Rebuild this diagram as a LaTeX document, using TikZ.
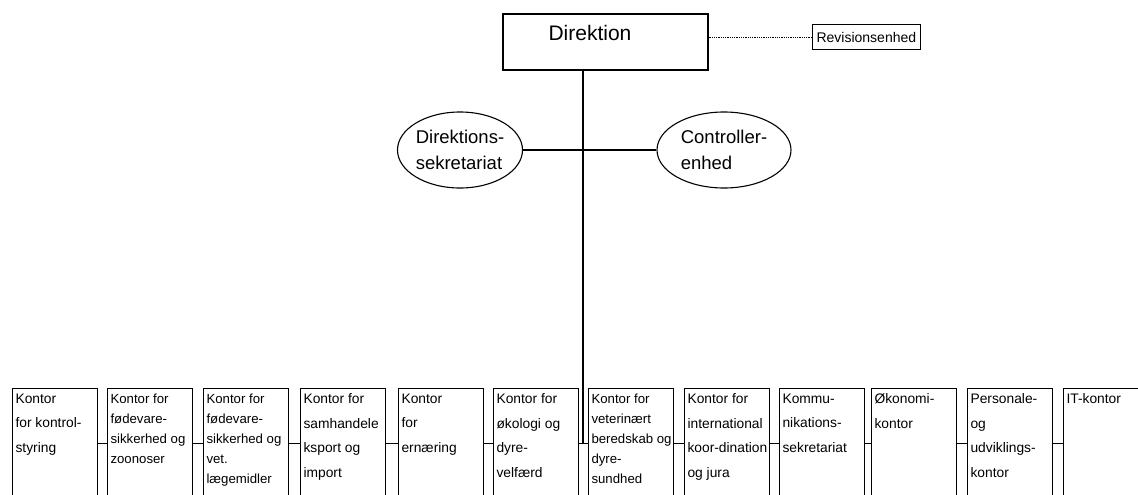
\documentclass[tikz,border=0pt]{standalone}
\usepackage{fontspec}
\setmainfont{Liberation Sans}
\usetikzlibrary{shapes.geometric}
\newcommand{\kasse}[1]{\parbox[t][100pt][t]{79pt}{\raggedright #1}}
\begin{document}
\begin{tikzpicture}[x=1pt,y=-1pt,line width=1.1pt,
    kontor/.style={draw,anchor=north west,inner xsep=3pt,inner ysep=5pt,font=\fontsize{13.8}{24.5}\selectfont},
    tight/.style={kontor,font=\fontsize{13.2}{20}\selectfont},
    enhed/.style={draw,ellipse,inner sep=0pt,minimum height=76pt,align=left,font=\fontsize{18.5}{26}\selectfont}]
        \useasboundingbox (0,0) rectangle (1138,495);
        \node[draw,minimum width=205pt,minimum height=56pt](dir)at(605.5,42){};
        \node[font=\fontsize{21}{24}\selectfont](dirnavn)at(590,33){Direktion};
        \node[draw,anchor=west,inner xsep=4pt,minimum height=25pt,font=\fontsize{14}{16}\selectfont](rev)at(812,37){Revisionsenhed};
        \draw[densely dotted,line width=0.8pt](dir.east|-rev.west)--(rev.west);
        \node[enhed,minimum width=124pt](sek)at(460,150){Direktions-\\sekretariat};
        \node[enhed,minimum width=134pt](ctrl)at(724,150){Controller-\\enhed};
        \draw(sek.east)--(ctrl.west);
        \node[kontor](k1)at(12,388){\kasse{Kontor\\for kontrol-\\styring}};
        \node[tight](k2)at(107,388){\kasse{Kontor for\\fødevare-\\\mbox{sikkerhed og}\\zoonoser}};
        \node[tight](k3)at(203,388){\kasse{Kontor for\\fødevare-\\\mbox{sikkerhed og}\\vet.\\lægemidler}};
        \node[kontor](k4)at(300,388){\kasse{Kontor for\\samhandele\\ksport og\\import}};
        \node[kontor](k5)at(398,388){\kasse{Kontor\\for\\ernæring}};
        \node[kontor](k6)at(493,388){\kasse{Kontor for\\økologi og\\dyre-\\velfærd}};
        \node[tight](k7)at(588,388){\kasse{Kontor for\\veterinært\\\mbox{beredskab og}\\dyre-\\sundhed}};
        \node[kontor](k8)at(684,388){\kasse{Kontor for\\\mbox{international}\\\mbox{koor-dination}\\og jura}};
        \node[kontor](k9)at(779,388){\kasse{Kommu-\\nikations-\\sekretariat}};
        \node[kontor](k10)at(871,388){\kasse{Økonomi-\\kontor}};
        \node[kontor](k11)at(967,388){\kasse{Personale-\\og\\udviklings-\\kontor}};
        \node[kontor](k12)at(1063,388){\kasse{IT-kontor}};
        \draw(k1.east)--(k2.west);
        \draw(k2.east)--(k3.west);
        \draw(k3.east)--(k4.west);
        \draw(k4.east)--(k5.west);
        \draw(k5.east)--(k6.west);
        \draw(k6.east)--(k7.west);
        \draw(k7.east)--(k8.west);
        \draw(k8.east)--(k9.west);
        \draw(k9.east)--(k10.west);
        \draw(k10.east)--(k11.west);
        \draw(k11.east)--(k12.west);
        \coordinate(knude)at(583,443);
        \draw(dir.south-|knude)--(knude);
    \end{tikzpicture}
\end{document}
